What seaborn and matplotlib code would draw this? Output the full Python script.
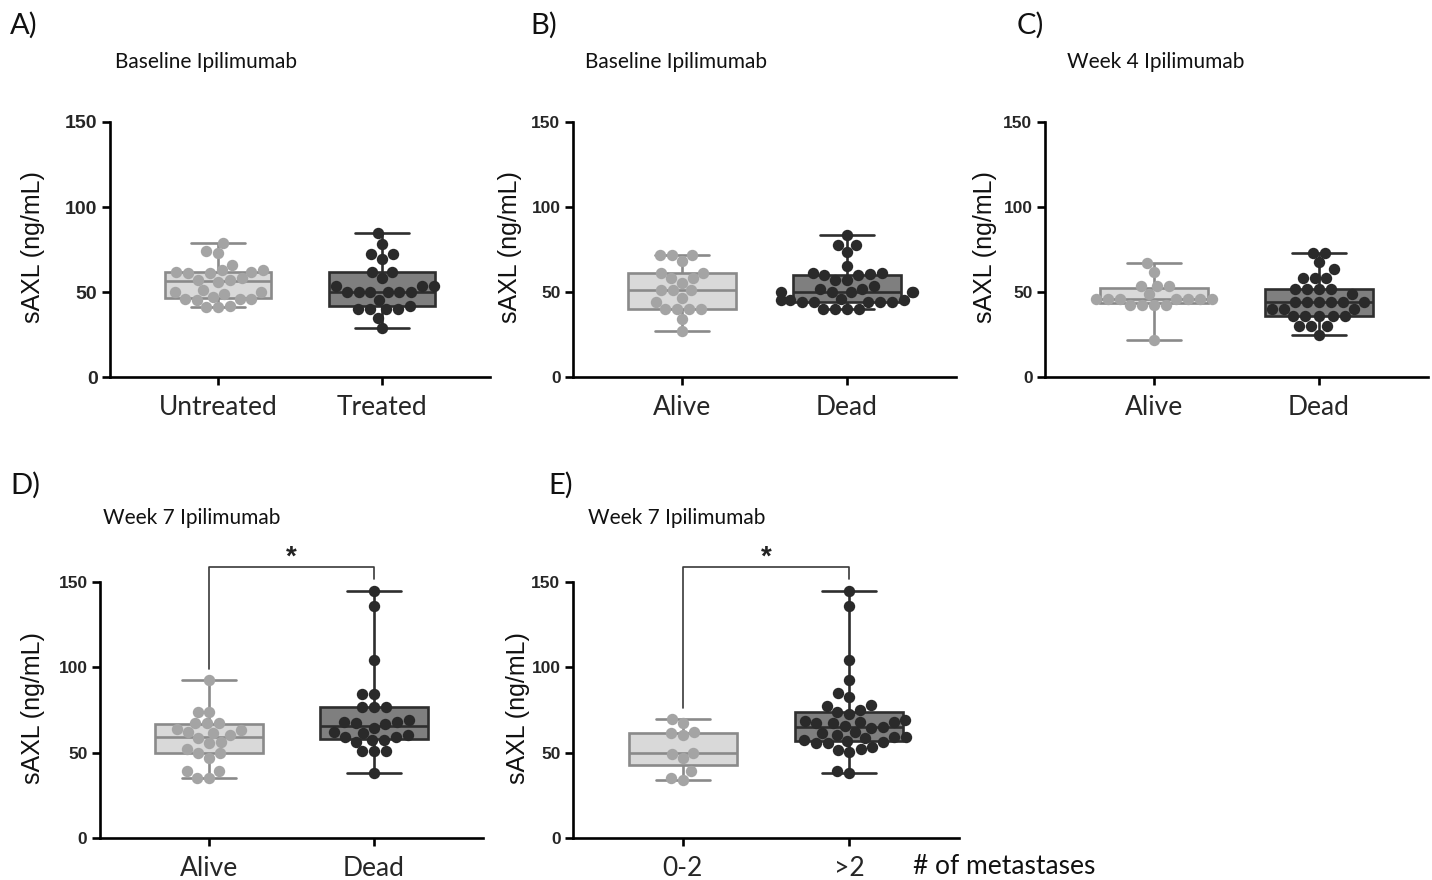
import numpy as np
import pandas as pd
import matplotlib
matplotlib.use("Agg")
import matplotlib.pyplot as plt
import seaborn as sns

sns.set_theme(style="ticks")
plt.rcParams['font.family'] = ['Liberation Sans', 'DejaVu Sans']

# ---------------- data (sAXL ng/mL) ----------------
a_cats = ["Untreated", "Treated"]
a_untreated = [79, 74, 73, 66, 63, 63, 62, 61, 61, 62, 58, 57, 56, 57,
               51, 50, 49, 50, 46, 46, 45, 47, 46, 42, 41, 41]
a_treated = [84.5, 78.2, 72.4, 72.4, 69.4, 61.6, 61.6, 58, 53.5, 53.5, 53.5,
             50, 50, 50, 50, 50, 50, 45.3, 40, 40, 40, 40, 41.8, 35, 28.6]

b_cats = ["Alive", "Dead"]
b_alive = [71.8, 71.8, 71.8, 68, 61, 61, 58, 58, 55, 51, 51, 51, 46.7, 44.3,
           40, 40, 40, 40, 34, 27.2]
b_dead = [83.5, 77.6, 77.6, 73.3, 65, 61, 61, 60, 60, 60.5, 57, 57, 53.7,
          51.8, 51.8, 50, 50, 50, 50, 50, 45.9, 44.4, 44.4, 45, 45, 44.4,
          44.4, 45, 44.4, 40, 40, 40, 40]

c_cats = ["Alive", "Dead"]
c_alive = [66.9, 61.6, 53.5, 53.5, 53.5, 48.6, 45.9, 45.9, 45.9, 45.9, 45.9,
           45.9, 45.9, 42.5, 42.5, 42.5, 42.5, 22]
c_dead = [73.1, 73.1, 67.4, 63.3, 58, 58, 58, 51.8, 51.8, 51.8, 51.8, 48.6,
          44, 44, 44, 44, 44, 44, 40, 40, 40, 35.9, 35.9, 35.9, 35.9, 35.9,
          30, 30, 30, 25]

d_cats = ["Alive", "Dead"]
d_alive = [92.6, 74, 74, 67.5, 67.5, 67.5, 63.8, 63.4, 61.8, 60.4, 62, 58.5,
           56.5, 55.5, 52, 49.6, 49.6, 47, 39, 39, 35, 35]
d_dead = [144.6, 135.7, 104.2, 84.3, 84.3, 77, 77, 77, 69.2, 67.7, 66.7,
          64.7, 67.3, 67.7, 62, 60.4, 59.4, 57.5, 57.5, 59.4, 61.8, 56.5,
          50.9, 50.9, 50.9, 38]

e_cats = ["0-2", ">2"]
e_low = [69.6, 67.3, 62, 60.4, 61.4, 49.5, 50, 47, 39, 34.2, 35.2]
e_high = [144.6, 135.7, 104.2, 92.6, 85.2, 82.6, 78.2, 77.4, 74.9, 72.5, 73.8,
          68.8, 68.2, 67.3, 65.3, 64.3, 65.7, 67.3, 68.1, 69.3,
          62, 60.4, 59.4, 57.5, 56.5, 56.9, 58.5, 59.4, 61.4,
          55.5, 55.5, 53.2, 51.8, 50.3, 52.3, 37.8, 39.2]

y_ticks = [0, 50, 100, 150]
y_label = "sAXL (ng/mL)"

# ---------------- styling ----------------
LIGHT = dict(fill="#d9d9d9", edge="#8a8a8a", pts="#a4a4a4")
DARK = dict(fill="#7f7f7f", edge="#2e2e2e", pts="#2a2a2a")
W, H = 1432, 880
fig = plt.figure(figsize=(W / 100, H / 100), dpi=100)
fig.patch.set_facecolor("white")

def fx(px):
    return px / W

def fy(py):
    return 1 - py / H

SANS2 = ["Lato", "DejaVu Sans"]

panels = [
    dict(letter="A)", title="Baseline Ipilimumab", cats=a_cats, g1=a_untreated, g2=a_treated,
         ax_left=110, ax_width=380, row=0, letter_x=10, title_x=115, ylab_x=33, tick_fs=14),
    dict(letter="B)", title="Baseline Ipilimumab", cats=b_cats, g1=b_alive, g2=b_dead,
         ax_left=573, ax_width=383, row=0, letter_x=530, title_x=585, ylab_x=510, tick_fs=12.5),
    dict(letter="C)", title="Week 4 Ipilimumab", cats=c_cats, g1=c_alive, g2=c_dead,
         ax_left=1045, ax_width=383, row=0, letter_x=1017, title_x=1067, ylab_x=985, tick_fs=12.5),
    dict(letter="D)", title="Week 7 Ipilimumab", cats=d_cats, g1=d_alive, g2=d_dead,
         ax_left=100, ax_width=383, row=1, letter_x=10, title_x=103, ylab_x=33, tick_fs=12.5,
         bracket=(99, 158.8, 152)),
    dict(letter="E)", title="Week 7 Ipilimumab", cats=e_cats, g1=e_low, g2=e_high,
         ax_left=573, ax_width=386, row=1, letter_x=548, title_x=588, ylab_x=518, tick_fs=12.5,
         bracket=(76, 158.8, 151.7)),
]

rows = {0: dict(y0=377, y150=122, letter_y=25, title_y=62),
        1: dict(y0=838, y150=582, letter_y=485, title_y=518)}

for p in panels:
    r = rows[p["row"]]
    ax = fig.add_axes([fx(p["ax_left"]), fy(r["y0"]), fx(p["ax_width"]),
                       (r["y0"] - r["y150"]) / H])
    cats = p["cats"]
    for grp, vals, sty in ((cats[0], p["g1"], LIGHT), (cats[1], p["g2"], DARK)):
        df = pd.DataFrame({"group": [grp] * len(vals), "value": vals})
        sns.boxplot(data=df, x="group", y="value", order=cats, ax=ax,
                    color=sty["fill"], linecolor=sty["edge"], saturation=1,
                    width=0.65, whis=(0, 100), showfliers=False, linewidth=1.9)
        sns.swarmplot(data=df, x="group", y="value", order=cats, ax=ax,
                      color=sty["pts"], size=8.2, linewidth=0, zorder=4)
    ax.set_xlim(-0.66, 1.66)
    ax.set_ylim(0, 150)
    ax.set_yticks(y_ticks)
    ax.set_yticklabels([str(t) for t in y_ticks], fontsize=p["tick_fs"], fontweight="bold")
    ax.set_xticks([0, 1])
    ax.set_xticklabels(cats, fontsize=19, family=SANS2)
    ax.set_xlabel("")
    ax.set_ylabel("")
    for s in ("top", "right"):
        ax.spines[s].set_visible(False)
    for s in ("left", "bottom"):
        ax.spines[s].set_linewidth(1.9)
        ax.spines[s].set_color("black")
    ax.tick_params(axis="both", direction="out", length=6, width=1.9, color="black")
    ax.tick_params(axis="x", pad=7)
    ax.tick_params(axis="y", pad=3)
    ax.set_facecolor("white")

    if "bracket" in p:
        lo, top, hi = p["bracket"]
        ax.plot([0, 0, 1, 1], [lo, top, top, hi], color="#3a3a3a", lw=1.2,
                clip_on=False, zorder=5)
        ax.text(0.5, 164, "*", ha="center", va="center", fontsize=20,
                fontweight="bold", color="#222222", clip_on=False)

    fig.text(fx(p["ylab_x"]), fy((r["y0"] + r["y150"]) / 2 - 2), y_label,
             rotation=90, ha="center", va="center", fontsize=18, color="#111111")
    fig.text(fx(p["letter_x"]), fy(r["letter_y"]), p["letter"], ha="left",
             va="center", fontsize=21, family=SANS2, color="#111111")
    fig.text(fx(p["title_x"]), fy(r["title_y"]), p["title"], ha="left",
             va="center", fontsize=15, family=SANS2, color="#111111")

fig.text(fx(913), fy(866), "# of metastases", ha="left", va="center",
         fontsize=19, family=SANS2, color="#111111")

fig.savefig("out.png", dpi=100, facecolor="white")
